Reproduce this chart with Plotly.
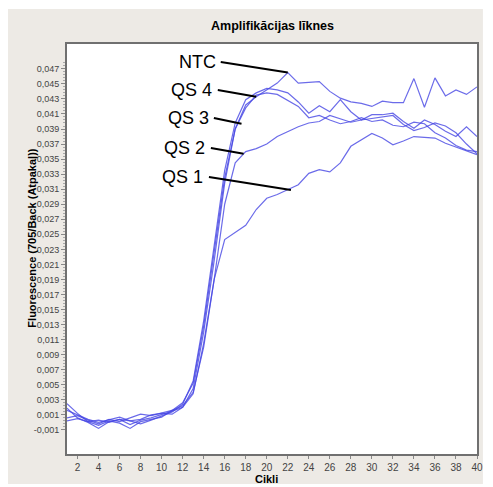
import plotly.graph_objects as go

cycles = list(range(1, 41))

ntc = [0.0006, 0.0009, 0.0003, -0.0002, 0.0004, 0.0001, 0.0006, 0.0011, 0.0009, 0.0013,
       0.0016, 0.0026, 0.0052, 0.0128, 0.0225, 0.0325, 0.0390, 0.0422, 0.0433, 0.0442,
       0.0451, 0.0465, 0.0451, 0.0452, 0.0453, 0.0440, 0.0431, 0.0426, 0.0424, 0.0420,
       0.0427, 0.0425, 0.0425, 0.0457, 0.0419, 0.0458, 0.0434, 0.0442, 0.0436, 0.0446]

qs4 = [0.0002, 0.0005, 0.0001, 0.0003, 0.0000, 0.0004, 0.0002, -0.0002, 0.0003, 0.0008,
       0.0014, 0.0024, 0.0055, 0.0135, 0.0235, 0.0335, 0.0398, 0.0429, 0.0438, 0.0444,
       0.0442, 0.0438, 0.0426, 0.0411, 0.0421, 0.0413, 0.0429, 0.0413, 0.0402, 0.0409,
       0.0409, 0.0411, 0.0400, 0.0391, 0.0402, 0.0396, 0.0387, 0.0380, 0.0393, 0.0380]

qs3 = [0.0016, 0.0010, 0.0004, 0.0000, 0.0003, 0.0007, 0.0002, 0.0004, 0.0010, 0.0012,
       0.0011, 0.0020, 0.0045, 0.0120, 0.0215, 0.0318, 0.0390, 0.0418, 0.0435, 0.0438,
       0.0436, 0.0428, 0.0420, 0.0405, 0.0408, 0.0402, 0.0397, 0.0400, 0.0405, 0.0400,
       0.0402, 0.0395, 0.0393, 0.0399, 0.0397, 0.0385, 0.0378, 0.0368, 0.0362, 0.0360]

qs2 = [0.0025, 0.0012, 0.0001, -0.0004, 0.0002, -0.0001, -0.0008, 0.0001, 0.0004, 0.0007,
       0.0016, 0.0022, 0.0040, 0.0100, 0.0190, 0.0290, 0.0345, 0.0360, 0.0364, 0.0370,
       0.0380, 0.0387, 0.0393, 0.0398, 0.0400, 0.0408, 0.0403, 0.0399, 0.0402, 0.0404,
       0.0405, 0.0408, 0.0396, 0.0388, 0.0392, 0.0398, 0.0394, 0.0385, 0.0370, 0.0357]

qs1 = [0.0019, 0.0006, 0.0000, -0.0008, 0.0001, 0.0004, -0.0003, 0.0003, 0.0006, 0.0010,
       0.0015, 0.0020, 0.0038, 0.0105, 0.0190, 0.0243, 0.0252, 0.0262, 0.0283, 0.0298,
       0.0303, 0.0309, 0.0316, 0.0331, 0.0336, 0.0333, 0.0345, 0.0367, 0.0376, 0.0384,
       0.0378, 0.0369, 0.0374, 0.0380, 0.0379, 0.0378, 0.0371, 0.0366, 0.0360, 0.0356]

series_names = ["NTC", "QS 4", "QS 3", "QS 2", "QS 1"]
series_values = [ntc, qs4, qs3, qs2, qs1]
# cycle / value each label's leader line points to
label_cycles = [22, 19, 17.6, 17.8, 22.3]
label_values = [0.0465, 0.0433, 0.0397, 0.0357, 0.0309]

y_tick_values = [-0.001, 0.001, 0.003, 0.005, 0.007, 0.009, 0.011, 0.013, 0.015, 0.017,
                 0.019, 0.021, 0.023, 0.025, 0.027, 0.029, 0.031, 0.033, 0.035, 0.037,
                 0.039, 0.041, 0.043, 0.045, 0.047]
y_tick_labels = ["-0,001", "0,001", "0,003", "0,005", "0,007", "0,009", "0,011", "0,013",
                 "0,015", "0,017", "0,019", "0,021", "0,023", "0,025", "0,027", "0,029",
                 "0,031", "0,033", "0,035", "0,037", "0,039", "0,041", "0,043", "0,045",
                 "0,047"]
x_tick_values = list(range(2, 41, 2))

x_range = [1, 40]
y_range = [-0.0042, 0.0503]

# plot area in reference-window pixels
L, R, T, B = 67, 483, 44, 454
WIN_W, WIN_H = 493, 487
OFF = 8  # default page body margin
W, H = WIN_W - OFF, WIN_H - OFF


def px_to_x(px):
    return x_range[0] + (px - L) / (R - L) * (x_range[1] - x_range[0])


def py_to_y(py):
    return y_range[1] - (py - T) / (B - T) * (y_range[1] - y_range[0])


fig = go.Figure()
line_color = "rgba(70,70,228,0.8)"
for name, vals in zip(series_names, series_values):
    fig.add_trace(go.Scatter(x=cycles, y=vals, mode="lines", name=name,
                             line=dict(color=line_color, width=1.2),
                             showlegend=False))

shapes = [
    dict(type="rect", xref="paper", yref="paper", layer="below",
         x0=(7 - L) / (R - L), x1=(489 - L) / (R - L),
         y0=(B - 484) / (B - T), y1=(B - 9) / (B - T),
         fillcolor="#EDEAE5", line=dict(width=0)),
    dict(type="rect", xref="x domain", yref="y domain", layer="below",
         x0=0, x1=1, y0=0, y1=1, fillcolor="white", line=dict(width=0)),
]

# label text centres and leader-line starts (reference pixels)
label_text_pos = [(199, 62), (193, 90), (190, 118), (186, 148), (184, 177)]
line_start_px = [(223, 62), (220, 90), (216, 118), (213, 148), (211, 177)]

annotations = []
for name, (tx, ty), (sx, sy), lc, lv in zip(series_names, label_text_pos,
                                             line_start_px, label_cycles, label_values):
    annotations.append(dict(x=px_to_x(tx), y=py_to_y(ty), xref="x", yref="y",
                            text=name, showarrow=False,
                            font=dict(family="Liberation Sans, Arial", size=18,
                                      color="black")))
    shapes.append(dict(type="line", xref="x", yref="y",
                       x0=px_to_x(sx), y0=py_to_y(sy), x1=lc, y1=lv,
                       line=dict(color="black", width=2)))

annotations.append(dict(x=0.5, y=1, xref="paper", yref="paper", yanchor="bottom",
                        yshift=9, text="<b>Amplifikācijas līknes</b>", showarrow=False,
                        font=dict(family="Liberation Sans, Arial", size=12.5, color="black")))
annotations.append(dict(x=(269 - L) / (R - L), y=0, xref="paper", yref="paper",
                        yanchor="middle", yshift=-25, text="<b>Cikli</b>", showarrow=False,
                        font=dict(family="Liberation Sans, Arial", size=11, color="black")))
annotations.append(dict(x=(23 - L) / (R - L), y=(B - 238) / (B - T), xref="paper",
                        yref="paper", textangle=-90,
                        text="<b>Fluorescence (705/Back (Atpakaļ))</b>", showarrow=False,
                        font=dict(family="Liberation Sans, Arial", size=11, color="black")))

fig.update_layout(
    width=W, height=H,
    margin=dict(l=L - OFF, r=WIN_W - R, t=T - OFF, b=WIN_H - B),
    paper_bgcolor="white",
    plot_bgcolor="white",
    shapes=shapes,
    annotations=annotations,
    font=dict(family="Liberation Sans, Arial", size=9, color="#333333"),
)

fig.update_xaxes(range=x_range, tickvals=x_tick_values, showgrid=False, zeroline=False,
                 showline=True, linecolor="#707070", linewidth=2, mirror=True,
                 ticks="outside", ticklen=3, tickcolor="#888888",
                 tickfont=dict(size=10, color="#444444"))
fig.update_yaxes(range=y_range, tickvals=y_tick_values, ticktext=y_tick_labels,
                 showgrid=False, zeroline=False,
                 showline=True, linecolor="#707070", linewidth=2, mirror=True,
                 ticks="outside", ticklen=4, tickcolor="#888888",
                 minor=dict(tickvals=[v / 10000 for v in range(-10, 480, 4)],
                            ticks="outside", ticklen=2, tickcolor="#aaaaaa"),
                 tickfont=dict(size=9, color="#444444"))

fig.write_html("out.html")
